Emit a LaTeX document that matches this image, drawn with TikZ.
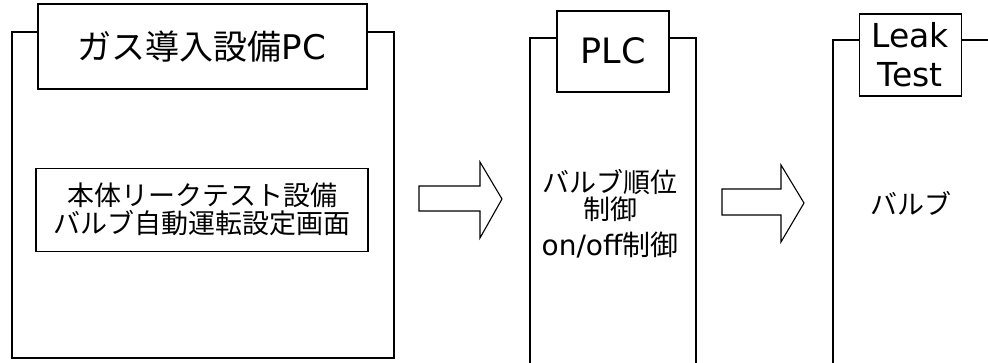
\documentclass[tikz,border=0pt]{standalone}
\usepackage{fontspec}
\setmainfont{DejaVu Sans}
\newfontfamily\jp{Noto Sans CJK JP}
\begin{document}
\begin{tikzpicture}[x=1pt,y=-1pt,
  line/.style={draw=black,line width=1.1pt},
  titlebox/.style={line,fill=white,inner sep=0pt},
  blockarrow/.style={line,fill=white,line join=miter},
  txt/.style={inner sep=0pt,align=center}]
\useasboundingbox[fill=white] (0,0) rectangle (988,363);
% outer frames
\draw[line] (12,32) rectangle (394,358);
\draw[line] (530,363) -- (530,38) -- (696,38) -- (696,363);
\draw[line] (988,40) -- (833,40) -- (833,363);
% title boxes
\node[titlebox,minimum width=329pt,minimum height=85pt] (t1) at (202.5,46.5) {};
\node[txt,font=\fontsize{34}{36}\selectfont] (t1txt) at (202,47) {{\jp ガス導入設備}PC};
\node[titlebox,minimum width=112pt,minimum height=81pt] (t2) at (613,51.5) {};
\node[txt,font=\fontsize{35}{36}\selectfont] (t2txt) at (613,51) {PLC};
\node[titlebox,minimum width=102pt,minimum height=82pt] (t3) at (910.5,55) {};
\node[txt,font=\fontsize{33}{39}\selectfont] (t3txt) at (910,55) {Leak\\Test};
% inner box of PC
\node[line,inner sep=0pt,minimum width=332pt,minimum height=83pt] (i1) at (202,210) {};
\node[txt,font=\fontsize{27}{28}\jp\selectfont] (i1txt) at (202,209) {本体リークテスト設備\\バルブ自動運転設定画面};
% PLC texts
\node[txt,font=\fontsize{27}{27}\jp\selectfont] (p1) at (610,196) {バルブ順位\\制御};
\node[txt,font=\fontsize{28}{30}\selectfont] (p2) at (610,245) {on/off{\jp 制御}};
% leak text
\node[txt,font=\fontsize{27}{30}\jp\selectfont] (l1) at (911,203) {バルブ};
% block arrows
\draw[blockarrow] (419,186) -- (480,186) -- (480,162) -- (502,199) -- (480,238) -- (480,211) -- (419,211) -- cycle;
\draw[blockarrow] (722,189) -- (781,189) -- (781,165) -- (804,203) -- (781,242) -- (781,215) -- (722,215) -- cycle;
\end{tikzpicture}
\end{document}
